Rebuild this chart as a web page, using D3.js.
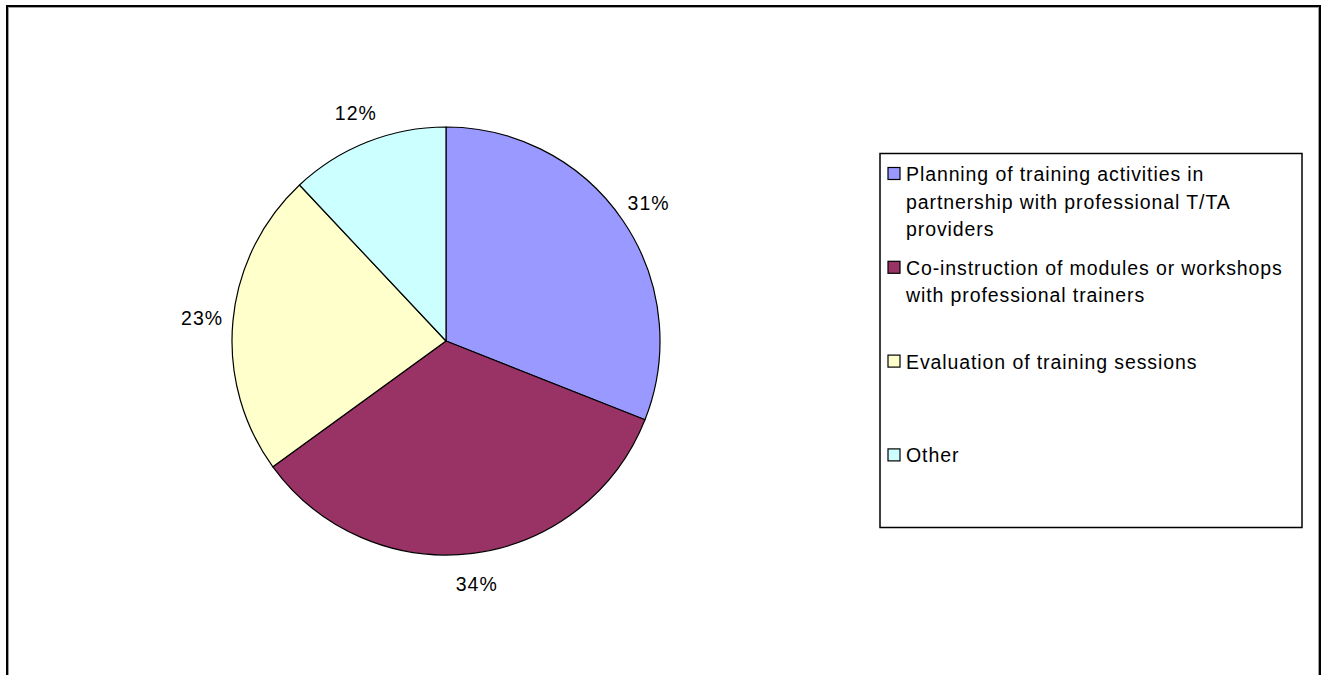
<!DOCTYPE html>
<html>
<head>
<meta charset="utf-8">
<script src="https://cdn.jsdelivr.net/npm/d3@7"></script>
<style>
  html, body { margin: 0; padding: 0; background: #fff; }
  svg { display: block; }
  text { font-family: "Liberation Sans", Arial, sans-serif; }
</style>
</head>
<body>
<svg id="chart" width="1327" height="675"></svg>
<script>
// ---- data ----
const categories = [
  "Planning of training activities in\npartnership with professional T/TA\nproviders",
  "Co-instruction of modules or workshops\nwith professional trainers",
  "Evaluation of training sessions",
  "Other"
];
const values = [31, 34, 23, 12];
const colors = ["#9999FF", "#993366", "#FFFFCC", "#CCFFFF"];

// ---- layout ----
const W = 1327, H = 675;
const svg = d3.select("#chart");

// outer frame
svg.append("rect").attr("x", 7).attr("y", 6).attr("width", 1313).attr("height", 700)
  .attr("fill", "#fff").attr("stroke", "#000").attr("stroke-width", 2);
svg.append("rect").attr("x", 8.5).attr("y", 7.5).attr("width", 1310).attr("height", 700)
  .attr("fill", "none").attr("stroke", "#a0a0a0").attr("stroke-width", 1);

const cx = 446, cy = 341, R = 214;
const pie = d3.pie().value(d => d).sort(null);
const arcs = pie(values);
const arc = d3.arc().innerRadius(0).outerRadius(R);

const g = svg.append("g").attr("transform", `translate(${cx},${cy})`);
g.selectAll("path").data(arcs).enter().append("path")
  .attr("d", arc)
  .attr("fill", (d, i) => colors[i])
  .attr("stroke", "#000")
  .attr("stroke-width", 1.2)
  .attr("stroke-linejoin", "round");

const labelR = 245;
g.selectAll("text.pct").data(arcs).enter().append("text")
  .attr("class", "pct")
  .attr("x", d => labelR * Math.sin((d.startAngle + d.endAngle) / 2))
  .attr("y", d => -labelR * Math.cos((d.startAngle + d.endAngle) / 2))
  .attr("text-anchor", "middle")
  .attr("dominant-baseline", "central")
  .attr("font-size", "19.5px")
  .attr("letter-spacing", "1px")
  .attr("fill", "#000")
  .text(d => d.data + "%");

// legend
const lg = svg.append("g");
lg.append("rect").attr("x", 880).attr("y", 153.5).attr("width", 422).attr("height", 374)
  .attr("fill", "#fff").attr("stroke", "#000").attr("stroke-width", 1.5);

const itemY0 = 174, itemStep = 93.8, lineStep = 27.6;
const items = lg.selectAll("g.item").data(categories).enter().append("g")
  .attr("class", "item")
  .attr("transform", (d, i) => `translate(0,${itemY0 + i * itemStep})`);
items.append("rect")
  .attr("x", 888).attr("y", -6.5).attr("width", 12).attr("height", 12)
  .attr("fill", (d, i) => colors[i]).attr("stroke", "#000").attr("stroke-width", 1.2);
items.each(function(d) {
  const t = d3.select(this).append("text")
    .attr("x", 906).attr("y", 0)
    .attr("font-size", "19.5px")
    .attr("letter-spacing", "0.9px")
    .attr("fill", "#000");
  d.split("\n").forEach((line, j) => {
    t.append("tspan").attr("x", 906).attr("y", j * lineStep)
      .attr("dominant-baseline", "central").text(line);
  });
});
</script>
</body>
</html>
